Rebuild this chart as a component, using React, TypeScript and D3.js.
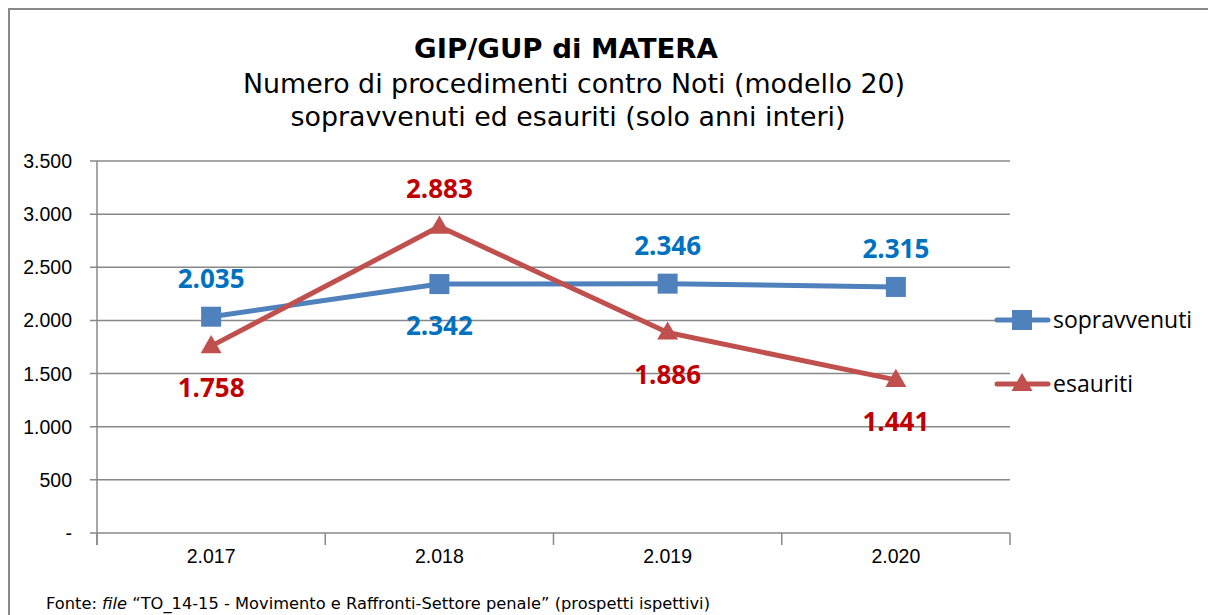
import React from "react";
import * as d3 from "d3";

const years = ["2.017", "2.018", "2.019", "2.020"];
const sopravvenuti = [2035, 2342, 2346, 2315];
const esauriti = [1758, 2883, 1886, 1441];
const yTicks = [0, 500, 1000, 1500, 2000, 2500, 3000, 3500];
// where each value label sits relative to its point
const sopLabelSide = ["above", "below", "above", "above"];
const esaLabelSide = ["below", "above", "below", "below"];

const W = 1208;
const H = 615;
const left = 97;
const right = 1010;
const top = 161;
const bottom = 533;

const fmt = (v: number) =>
  v === 0 ? "-" : d3.format(",")(v).replace(/,/g, ".");

export default function App() {
  const x = d3.scaleBand().domain(years).range([left, right]);
  const y = d3.scaleLinear().domain([0, 3500]).range([bottom, top]);
  const cx = (d: string) => (x(d) as number) + x.bandwidth() / 2;

  const line = d3
    .line<number>()
    .x((_, i) => cx(years[i]))
    .y((d) => y(d));

  const tri = d3.symbol().type(d3.symbolTriangle).size(190);

  const series = [
    { name: "sopravvenuti", values: sopravvenuti, line: "#4F81BD", label: "#0070C0", sides: sopLabelSide, marker: "square" },
    { name: "esauriti", values: esauriti, line: "#C0504D", label: "#C00000", sides: esaLabelSide, marker: "triangle" },
  ];

  const marker = (kind: string, px: number, py: number, color: string) =>
    kind === "square" ? (
      <rect x={px - 10} y={py - 10} width={20} height={20} fill={color} />
    ) : (
      <path d={tri() as string} transform={`translate(${px},${py + 1})`} fill={color} />
    );

  const sans = "'Liberation Sans', Arial, sans-serif";
  const dv = "'DejaVu Sans', Verdana, sans-serif";
  const bold = "'Open Sans', sans-serif";

  return (
    <svg width={W} height={H} style={{ position: "absolute", left: 0, top: 0, background: "#fff" }}>
      {/* chart frame */}
      <path d={`M9,${H} L9,9 L${W},9`} fill="none" stroke="#888" strokeWidth={2} />

      <text x={566} y={58} textAnchor="middle" fontFamily={dv} fontWeight="bold" fontSize={27}
        textLength={304} lengthAdjust="spacingAndGlyphs">
        GIP/GUP di MATERA
      </text>
      <text x={574} y={93} textAnchor="middle" fontFamily={dv} fontSize={26.5}
        textLength={662} lengthAdjust="spacingAndGlyphs">
        Numero di procedimenti contro Noti (modello 20)
      </text>
      <text x={568} y={126} textAnchor="middle" fontFamily={dv} fontSize={26.5}
        textLength={555} lengthAdjust="spacingAndGlyphs">
        sopravvenuti ed esauriti (solo anni interi)
      </text>

      {/* grid + y axis */}
      {yTicks.map((t) => (
        <g key={t}>
          <line x1={90} x2={right} y1={y(t)} y2={y(t)} stroke="#888" strokeWidth={1.5} />
          <text x={72} y={y(t) + 7} textAnchor="end" fontFamily={sans} fontSize={19.5}>
            {fmt(t)}
          </text>
        </g>
      ))}
      <line x1={left} x2={left} y1={top} y2={bottom + 12} stroke="#888" strokeWidth={1.5} />
      {[...years.map((d) => x(d) as number), right].map((v, i) => (
        <line key={i} x1={v} x2={v} y1={bottom} y2={bottom + 12} stroke="#888" strokeWidth={1.5} />
      ))}
      {years.map((d) => (
        <text key={d} x={cx(d)} y={563} textAnchor="middle" fontFamily={sans} fontSize={19.5}>
          {d}
        </text>
      ))}

      {/* series */}
      {series.map((s) => (
        <g key={s.name}>
          <path d={line(s.values) as string} fill="none" stroke={s.line} strokeWidth={5} strokeLinejoin="round" />
          {s.values.map((v, i) => (
            <g key={i}>{marker(s.marker, cx(years[i]), y(v), s.line)}</g>
          ))}
          {s.values.map((v, i) => (
            <text
              key={"l" + i}
              x={cx(years[i])}
              y={y(v) + (s.sides[i] === "above" ? -38 : 42) + 9}
              textAnchor="middle"
              fontFamily={bold}
              fontWeight="bold"
              fontSize={26}
              fill={s.label}
            >
              {fmt(v)}
            </text>
          ))}
        </g>
      ))}

      {/* legend */}
      {series.map((s, i) => {
        const ly = 320 + i * 64;
        return (
          <g key={s.name}>
            <line x1={997} x2={1048} y1={ly} y2={ly} stroke={s.line} strokeWidth={5} strokeLinecap="round" />
            {marker(s.marker, 1022, ly, s.line)}
            <text x={1053} y={ly + 8} fontFamily={bold} fontSize={23}>
              {s.name}
            </text>
          </g>
        );
      })}

      <text x={46} y={609} fontFamily={dv} fontSize={15.5} textLength={664} lengthAdjust="spacingAndGlyphs">
        Fonte: <tspan fontStyle="italic">file</tspan> “TO_14-15 - Movimento e Raffronti-Settore penale” (prospetti ispettivi)
      </text>
    </svg>
  );
}
